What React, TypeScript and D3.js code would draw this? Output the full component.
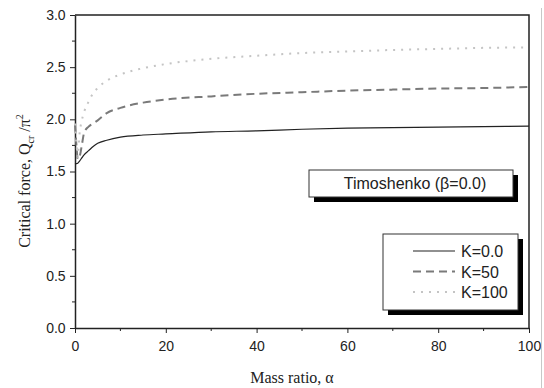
import { useEffect, useRef } from 'react'
import * as d3 from 'd3'

// mass ratio values (x) shared by all three curves
const alpha = [0, 0.3, 0.6, 1, 1.5, 2, 3, 4, 5, 7, 10, 15, 20, 30, 40, 50, 60, 70, 80, 90, 100]

const k0 = [1.57, 1.575, 1.58, 1.6, 1.63, 1.66, 1.7, 1.74, 1.77, 1.8, 1.83, 1.85, 1.86, 1.88, 1.89, 1.905, 1.915, 1.92, 1.925, 1.93, 1.935]
const k50 = [1.95, 1.76, 1.62, 1.64, 1.75, 1.87, 1.93, 1.96, 1.99, 2.06, 2.11, 2.16, 2.19, 2.22, 2.245, 2.26, 2.275, 2.285, 2.295, 2.3, 2.31]
const k100 = [1.96, 1.78, 1.64, 1.86, 1.99, 2.07, 2.17, 2.25, 2.3, 2.37, 2.43, 2.49, 2.53, 2.58, 2.61, 2.635, 2.65, 2.665, 2.675, 2.685, 2.69]

const seriesNames = ['K=0.0', 'K=50', 'K=100']
const xTicks = [0, 20, 40, 60, 80, 100]
const yTicks = [0, 0.5, 1, 1.5, 2, 2.5, 3]

export default function App() {
  const svgRef = useRef<SVGSVGElement>(null)

  useEffect(() => {
    if (!svgRef.current) return
    const svg = d3.select(svgRef.current)
    svg.selectAll('*').remove()

    const width = 544
    const height = 388
    const margin = { top: 15, right: 15, bottom: 60, left: 75 }
    const w = width - margin.left - margin.right
    const h = height - margin.top - margin.bottom
    const sans = '"Liberation Sans", Arial, sans-serif'

    svg.attr('width', width).attr('height', height)

    const g = svg.append('g').attr('transform', `translate(${margin.left},${margin.top})`)

    const x = d3.scaleLinear().domain([0, 100]).range([0, w])
    const y = d3.scaleLinear().domain([0, 3]).range([h, 0])

    // right edge page rule
    svg.append('line')
      .attr('x1', 541.5).attr('x2', 541.5)
      .attr('y1', 8).attr('y2', height)
      .attr('stroke', '#c8c8c8')
      .attr('stroke-width', 1)

    // frame (top + right)
    g.append('path')
      .attr('d', `M0,0H${w}V${h}`)
      .attr('fill', 'none')
      .attr('stroke', '#222')
      .attr('stroke-width', 1.5)

    // minor ticks
    const xMinor = d3.range(10, 100, 20)
    g.selectAll('.xminor').data(xMinor).enter().append('line')
      .attr('x1', (d) => x(d)).attr('x2', (d) => x(d))
      .attr('y1', h).attr('y2', h + 3)
      .attr('stroke', '#222').attr('stroke-width', 1)
    const yMinor = d3.range(0.25, 3, 0.5)
    g.selectAll('.yminor').data(yMinor).enter().append('line')
      .attr('x1', -3).attr('x2', 0)
      .attr('y1', (d) => y(d)).attr('y2', (d) => y(d))
      .attr('stroke', '#222').attr('stroke-width', 1)

    // axes
    const xAxis = d3.axisBottom(x).tickValues(xTicks).tickSize(5).tickSizeOuter(0).tickFormat(d3.format('d'))
    const yAxis = d3.axisLeft(y).tickValues(yTicks).tickSize(5).tickSizeOuter(0).tickFormat(d3.format('.1f'))

    const gx = g.append('g').attr('transform', `translate(0,${h})`).call(xAxis)
    const gy = g.append('g').call(yAxis)
    for (const ax of [gx, gy]) {
      ax.select('.domain').attr('stroke', '#222').attr('stroke-width', 1.5)
      ax.selectAll('.tick line').attr('stroke', '#222').attr('stroke-width', 1)
      ax.selectAll('.tick text')
        .attr('fill', '#222')
        .attr('font-family', sans)
        .attr('font-size', '14px')
    }
    gx.selectAll('.tick text').attr('dy', '1.05em')
    gy.selectAll('.tick text').attr('dx', '-0.1em')

    // curves
    const styles = [
      { color: '#222', width: 1.2, dash: null },
      { color: '#7a7a7a', width: 2, dash: '8,5' },
      { color: '#c4c4c4', width: 2, dash: '2,6' },
    ]
    const series = [k0, k50, k100]
    const line = d3
      .line<number>()
      .x((_, i) => x(alpha[i]))
      .y((d) => y(d))
      .curve(d3.curveMonotoneX)

    series.forEach((vals, i) => {
      g.append('path')
        .datum(vals)
        .attr('fill', 'none')
        .attr('stroke', styles[i].color)
        .attr('stroke-width', styles[i].width)
        .attr('stroke-dasharray', styles[i].dash)
        .attr('d', line)
    })

    // title box
    const tb = { x: 309, y: 170, w: 204, h: 27 }
    svg.append('rect')
      .attr('x', tb.x + 5).attr('y', tb.y + 5)
      .attr('width', tb.w).attr('height', tb.h)
      .attr('fill', '#000')
    svg.append('rect')
      .attr('x', tb.x).attr('y', tb.y)
      .attr('width', tb.w).attr('height', tb.h)
      .attr('fill', '#fff').attr('stroke', '#333').attr('stroke-width', 1)
    svg.append('text')
      .attr('x', 415).attr('y', tb.y + tb.h / 2 + 5.5)
      .attr('text-anchor', 'middle')
      .attr('font-family', sans)
      .attr('font-size', '16px')
      .attr('fill', '#222')
      .text('Timoshenko (β=0.0)')

    // legend box
    const lb = { x: 383, y: 234, w: 135, h: 76 }
    svg.append('rect')
      .attr('x', lb.x + 5).attr('y', lb.y + 5)
      .attr('width', lb.w).attr('height', lb.h)
      .attr('fill', '#000')
    svg.append('rect')
      .attr('x', lb.x).attr('y', lb.y)
      .attr('width', lb.w).attr('height', lb.h)
      .attr('fill', '#fff').attr('stroke', '#333').attr('stroke-width', 1)

    seriesNames.forEach((name, i) => {
      const ry = 251 + i * 20.5
      svg.append('line')
        .attr('x1', 413).attr('x2', 455)
        .attr('y1', ry).attr('y2', ry)
        .attr('stroke', styles[i].color)
        .attr('stroke-width', styles[i].width)
        .attr('stroke-dasharray', styles[i].dash)
      svg.append('text')
        .attr('x', 461).attr('y', ry + 6)
        .attr('font-family', sans)
        .attr('font-size', '16px')
        .attr('fill', '#222')
        .text(name)
    })

    // x label
    svg.append('text')
      .attr('x', 292)
      .attr('y', 383)
      .attr('text-anchor', 'middle')
      .attr('font-family', '"Liberation Serif", "Times New Roman", serif')
      .attr('font-size', '16px')
      .attr('fill', '#222')
      .text('Mass ratio, α')

    // y label
    const yl = svg.append('text')
      .attr('transform', 'translate(30,181) rotate(-90)')
      .attr('text-anchor', 'middle')
      .attr('font-family', '"Liberation Serif", "Times New Roman", serif')
      .attr('font-size', '16px')
      .attr('fill', '#222')
    yl.append('tspan').text('Critical force, Q')
    yl.append('tspan').attr('font-size', '10px').attr('dy', 4).text('cr')
    yl.append('tspan').attr('dy', -4).text(' /π')
    yl.append('tspan').attr('font-size', '10px').attr('dy', -7).text('2')
  }, [])

  return (
    <svg ref={svgRef} style={{ position: 'absolute', left: 0, top: 0, display: 'block' }}></svg>
  )
}
